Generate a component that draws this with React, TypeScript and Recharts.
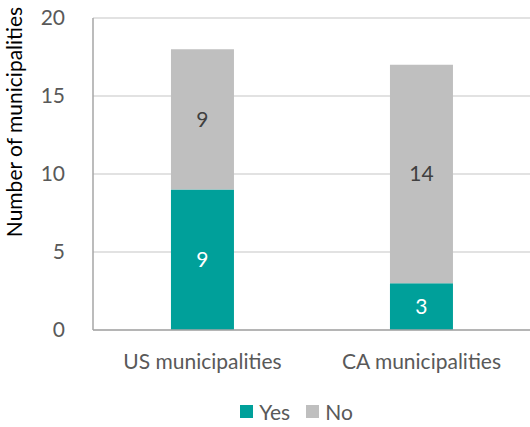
import { Bar, BarChart, CartesianGrid, LabelList, Legend, XAxis, YAxis } from 'recharts';

const categories = ['US municipalities', 'CA municipalities'];
const yesCounts = [9, 3];
const noCounts = [9, 14];
const yTicks = [0, 5, 10, 15, 20];
const seriesOrder = ['Yes', 'No'];

const data = categories.map((name, i) => ({ name, Yes: yesCounts[i], No: noCounts[i] }));

const font = 'Lato, sans-serif';
const fs = 21;

const renderLegend = (props: any) => {
  const items = [...(props.payload || [])].sort(
    (a: any, b: any) => seriesOrder.indexOf(a.value) - seriesOrder.indexOf(b.value)
  );
  return (
    <div style={{ display: 'flex', justifyContent: 'center', gap: 16, paddingLeft: 62, position: 'relative', top: 3 }}>
      {items.map((it: any) => (
        <span key={it.value} style={{ display: 'flex', alignItems: 'center', color: '#595959', fontSize: fs, fontFamily: font }}>
          <span style={{ width: 13, height: 13, background: it.color, marginRight: 6, display: 'inline-block' }} />
          {it.value}
        </span>
      ))}
    </div>
  );
};

export default function App() {
  return (
    <div style={{ position: 'absolute', left: 0, top: 0, fontFamily: font }}>
      <BarChart
        width={531}
        height={427}
        data={data}
        margin={{ top: 18, right: 0, left: 0, bottom: 6 }}
        barCategoryGap="35.6%"
      >
        <CartesianGrid vertical={false} stroke="#d9d9d9" strokeWidth={1.5} />
        <XAxis
          dataKey="name"
          tickLine={false}
          axisLine={{ stroke: '#a6a6a6', strokeWidth: 1.5 }}
          tick={{ fill: '#595959', fontSize: fs, fontFamily: font }}
          tickMargin={18}
          height={66}
        />
        <YAxis
          domain={[0, 20]}
          ticks={yTicks}
          width={93}
          tickLine={false}
          axisLine={{ stroke: '#a6a6a6', strokeWidth: 1.5 }}
          tick={{ fill: '#595959', fontSize: fs, fontFamily: font }}
          tickMargin={22}
          label={{
            value: 'Number of municipalities',
            angle: -90,
            position: 'insideLeft',
            dx: 10,
            dy: -52,
            style: { textAnchor: 'middle', fill: '#000', fontSize: fs, fontFamily: font },
          }}
        />
        <Legend verticalAlign="bottom" content={renderLegend} />
        <Bar dataKey="Yes" stackId="a" fill="#00a09a" isAnimationActive={false}>
          <LabelList dataKey="Yes" position="center" fill="#ffffff" fontSize={fs} fontFamily={font} />
        </Bar>
        <Bar dataKey="No" stackId="a" fill="#bfbfbf" isAnimationActive={false}>
          <LabelList dataKey="No" position="center" fill="#404040" fontSize={fs} fontFamily={font} />
        </Bar>
      </BarChart>
    </div>
  );
}
